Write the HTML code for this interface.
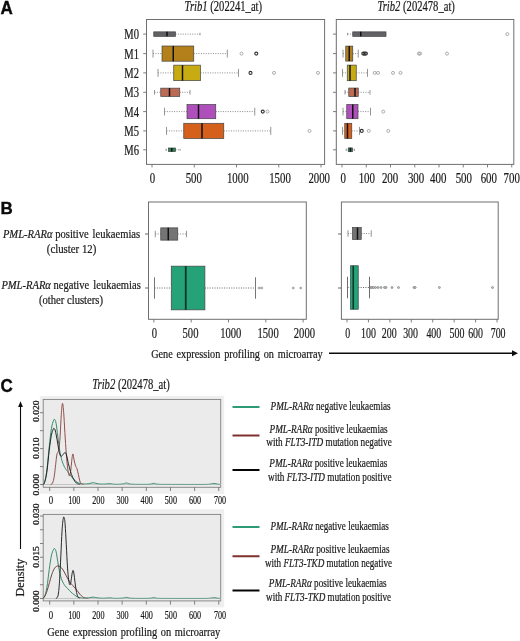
<!DOCTYPE html>
<html lang="en"><head><meta charset="utf-8"><title>Trib1 and Trib2 expression in AML</title>
<style>html,body{margin:0;padding:0;background:#fff}svg{display:block}</style></head>
<body>
<svg width="520" height="641" viewBox="0 0 520 641" font-family="Liberation Serif, serif">
<rect width="520" height="641" fill="#fff"/>
<text transform="translate(0.6 14.0) scale(1 1.09)" font-family="Liberation Sans, sans-serif" font-weight="bold" font-size="17" fill="#0a0a0a" stroke="#0a0a0a" stroke-width="0.35">A</text>
<text transform="translate(0.6 213.8) scale(1 1.01)" font-family="Liberation Sans, sans-serif" font-weight="bold" font-size="17" fill="#0a0a0a" stroke="#0a0a0a" stroke-width="0.35">B</text>
<text transform="translate(0.6 392.2) scale(1 1.09)" font-family="Liberation Sans, sans-serif" font-weight="bold" font-size="17" fill="#0a0a0a" stroke="#0a0a0a" stroke-width="0.35">C</text>
<text x="184.6" y="10.7" font-size="14.6" text-anchor="start" fill="#1a1a1a" stroke="#1a1a1a" stroke-width="0.22" textLength="77.5" lengthAdjust="spacingAndGlyphs" ><tspan font-style="italic">Trib1</tspan> (202241_at)</text>
<text x="377.4" y="10.7" font-size="14.6" text-anchor="start" fill="#1a1a1a" stroke="#1a1a1a" stroke-width="0.22" textLength="77.5" lengthAdjust="spacingAndGlyphs" ><tspan font-style="italic">Trib2</tspan> (202478_at)</text>
<rect x="146.5" y="19.5" width="178.10000000000002" height="144.9" fill="#fff" stroke="#6f6f6f" stroke-width="1"/>
<rect x="336.3" y="19.5" width="177.49999999999994" height="144.9" fill="#fff" stroke="#6f6f6f" stroke-width="1"/>
<text x="124.3" y="39.1" font-size="14.8" text-anchor="start" fill="#1a1a1a" stroke="#1a1a1a" stroke-width="0.22" textLength="14.7" lengthAdjust="spacingAndGlyphs" >M0</text>
<line x1="143.2" y1="34.1" x2="146.5" y2="34.1" stroke="#6f6f6f" stroke-width="0.9"/>
<line x1="333" y1="34.1" x2="336.3" y2="34.1" stroke="#6f6f6f" stroke-width="0.9"/>
<text x="124.3" y="58.6" font-size="14.8" text-anchor="start" fill="#1a1a1a" stroke="#1a1a1a" stroke-width="0.22" textLength="14.7" lengthAdjust="spacingAndGlyphs" >M1</text>
<line x1="143.2" y1="53.6" x2="146.5" y2="53.6" stroke="#6f6f6f" stroke-width="0.9"/>
<line x1="333" y1="53.6" x2="336.3" y2="53.6" stroke="#6f6f6f" stroke-width="0.9"/>
<text x="124.3" y="77.9" font-size="14.8" text-anchor="start" fill="#1a1a1a" stroke="#1a1a1a" stroke-width="0.22" textLength="14.7" lengthAdjust="spacingAndGlyphs" >M2</text>
<line x1="143.2" y1="72.9" x2="146.5" y2="72.9" stroke="#6f6f6f" stroke-width="0.9"/>
<line x1="333" y1="72.9" x2="336.3" y2="72.9" stroke="#6f6f6f" stroke-width="0.9"/>
<text x="124.3" y="97.3" font-size="14.8" text-anchor="start" fill="#1a1a1a" stroke="#1a1a1a" stroke-width="0.22" textLength="14.7" lengthAdjust="spacingAndGlyphs" >M3</text>
<line x1="143.2" y1="92.3" x2="146.5" y2="92.3" stroke="#6f6f6f" stroke-width="0.9"/>
<line x1="333" y1="92.3" x2="336.3" y2="92.3" stroke="#6f6f6f" stroke-width="0.9"/>
<text x="124.3" y="116.6" font-size="14.8" text-anchor="start" fill="#1a1a1a" stroke="#1a1a1a" stroke-width="0.22" textLength="14.7" lengthAdjust="spacingAndGlyphs" >M4</text>
<line x1="143.2" y1="111.6" x2="146.5" y2="111.6" stroke="#6f6f6f" stroke-width="0.9"/>
<line x1="333" y1="111.6" x2="336.3" y2="111.6" stroke="#6f6f6f" stroke-width="0.9"/>
<text x="124.3" y="135.9" font-size="14.8" text-anchor="start" fill="#1a1a1a" stroke="#1a1a1a" stroke-width="0.22" textLength="14.7" lengthAdjust="spacingAndGlyphs" >M5</text>
<line x1="143.2" y1="130.9" x2="146.5" y2="130.9" stroke="#6f6f6f" stroke-width="0.9"/>
<line x1="333" y1="130.9" x2="336.3" y2="130.9" stroke="#6f6f6f" stroke-width="0.9"/>
<text x="124.3" y="154.8" font-size="14.8" text-anchor="start" fill="#1a1a1a" stroke="#1a1a1a" stroke-width="0.22" textLength="14.7" lengthAdjust="spacingAndGlyphs" >M6</text>
<line x1="143.2" y1="149.8" x2="146.5" y2="149.8" stroke="#6f6f6f" stroke-width="0.9"/>
<line x1="333" y1="149.8" x2="336.3" y2="149.8" stroke="#6f6f6f" stroke-width="0.9"/>
<line x1="175.5" y1="34.1" x2="200" y2="34.1" stroke="#8a8a8a" stroke-width="1" stroke-dasharray="1 1.4"/>
<line x1="200" y1="32.862500000000004" x2="200" y2="35.3375" stroke="#8a8a8a" stroke-width="0.9"/>
<rect x="153.75" y="31.85" width="21.75" height="4.5" fill="#626266" stroke="#444" stroke-width="0.7"/>
<line x1="167" y1="31.85" x2="167" y2="36.35" stroke="#111" stroke-width="1.5"/>
<line x1="153" y1="53.6" x2="162" y2="53.6" stroke="#8a8a8a" stroke-width="1" stroke-dasharray="1 1.4"/>
<line x1="153" y1="49.6" x2="153" y2="57.6" stroke="#8a8a8a" stroke-width="0.9"/>
<line x1="193.75" y1="53.6" x2="227.3" y2="53.6" stroke="#8a8a8a" stroke-width="1" stroke-dasharray="1 1.4"/>
<line x1="227.3" y1="49.6" x2="227.3" y2="57.6" stroke="#8a8a8a" stroke-width="0.9"/>
<rect x="162" y="46.0" width="31.75" height="15.2" fill="#b3801b" stroke="#444" stroke-width="0.7"/>
<line x1="173.25" y1="46.0" x2="173.25" y2="61.2" stroke="#111" stroke-width="1.5"/>
<circle cx="241.5" cy="53.6" r="1.5" fill="none" stroke="#8c8c8c" stroke-width="0.7"/>
<circle cx="256.3" cy="53.6" r="1.5" fill="none" stroke="#333" stroke-width="1.1"/>
<line x1="158" y1="72.9" x2="173.75" y2="72.9" stroke="#8a8a8a" stroke-width="1" stroke-dasharray="1 1.4"/>
<line x1="158" y1="68.9" x2="158" y2="76.9" stroke="#8a8a8a" stroke-width="0.9"/>
<line x1="200.5" y1="72.9" x2="238.5" y2="72.9" stroke="#8a8a8a" stroke-width="1" stroke-dasharray="1 1.4"/>
<line x1="238.5" y1="68.9" x2="238.5" y2="76.9" stroke="#8a8a8a" stroke-width="0.9"/>
<rect x="173.75" y="65.15" width="26.75" height="15.5" fill="#c6ab12" stroke="#444" stroke-width="0.7"/>
<line x1="182.5" y1="65.15" x2="182.5" y2="80.65" stroke="#111" stroke-width="1.5"/>
<circle cx="274" cy="72.9" r="1.5" fill="none" stroke="#8c8c8c" stroke-width="0.7"/>
<circle cx="318" cy="72.9" r="1.5" fill="none" stroke="#8c8c8c" stroke-width="0.7"/>
<circle cx="250.5" cy="72.9" r="1.5" fill="none" stroke="#333" stroke-width="1.1"/>
<line x1="154.5" y1="92.3" x2="160.75" y2="92.3" stroke="#8a8a8a" stroke-width="1" stroke-dasharray="1 1.4"/>
<line x1="154.5" y1="90.0175" x2="154.5" y2="94.5825" stroke="#8a8a8a" stroke-width="0.9"/>
<line x1="179.75" y1="92.3" x2="190" y2="92.3" stroke="#8a8a8a" stroke-width="1" stroke-dasharray="1 1.4"/>
<line x1="190" y1="90.0175" x2="190" y2="94.5825" stroke="#8a8a8a" stroke-width="0.9"/>
<rect x="160.75" y="88.14999999999999" width="19.0" height="8.3" fill="#bc6a54" stroke="#444" stroke-width="0.7"/>
<line x1="169.5" y1="88.14999999999999" x2="169.5" y2="96.45" stroke="#111" stroke-width="1.5"/>
<line x1="164.5" y1="111.6" x2="187" y2="111.6" stroke="#8a8a8a" stroke-width="1" stroke-dasharray="1 1.4"/>
<line x1="164.5" y1="107.695" x2="164.5" y2="115.505" stroke="#8a8a8a" stroke-width="0.9"/>
<line x1="215.75" y1="111.6" x2="254.75" y2="111.6" stroke="#8a8a8a" stroke-width="1" stroke-dasharray="1 1.4"/>
<line x1="254.75" y1="107.695" x2="254.75" y2="115.505" stroke="#8a8a8a" stroke-width="0.9"/>
<rect x="187" y="104.5" width="28.75" height="14.2" fill="#ae4fbb" stroke="#444" stroke-width="0.7"/>
<line x1="198.5" y1="104.5" x2="198.5" y2="118.69999999999999" stroke="#111" stroke-width="1.5"/>
<circle cx="267.5" cy="111.6" r="1.5" fill="none" stroke="#8c8c8c" stroke-width="0.7"/>
<circle cx="262.75" cy="111.6" r="1.5" fill="none" stroke="#333" stroke-width="1.1"/>
<line x1="166.5" y1="130.9" x2="183.75" y2="130.9" stroke="#8a8a8a" stroke-width="1" stroke-dasharray="1 1.4"/>
<line x1="166.5" y1="126.9" x2="166.5" y2="134.9" stroke="#8a8a8a" stroke-width="0.9"/>
<line x1="223.75" y1="130.9" x2="270.75" y2="130.9" stroke="#8a8a8a" stroke-width="1" stroke-dasharray="1 1.4"/>
<line x1="270.75" y1="126.9" x2="270.75" y2="134.9" stroke="#8a8a8a" stroke-width="0.9"/>
<rect x="183.75" y="123.30000000000001" width="40.0" height="15.2" fill="#d4601c" stroke="#444" stroke-width="0.7"/>
<line x1="202" y1="123.30000000000001" x2="202" y2="138.5" stroke="#111" stroke-width="1.5"/>
<circle cx="309.5" cy="130.9" r="1.5" fill="none" stroke="#8c8c8c" stroke-width="0.7"/>
<line x1="166" y1="149.8" x2="168.5" y2="149.8" stroke="#8a8a8a" stroke-width="1" stroke-dasharray="1 1.4"/>
<line x1="166" y1="148.81" x2="166" y2="150.79000000000002" stroke="#8a8a8a" stroke-width="0.9"/>
<line x1="175.5" y1="149.8" x2="180" y2="149.8" stroke="#8a8a8a" stroke-width="1" stroke-dasharray="1 1.4"/>
<line x1="180" y1="148.81" x2="180" y2="150.79000000000002" stroke="#8a8a8a" stroke-width="0.9"/>
<rect x="168.5" y="148.0" width="7.0" height="3.6" fill="#2a8258" stroke="#444" stroke-width="0.7"/>
<line x1="171.75" y1="148.0" x2="171.75" y2="151.60000000000002" stroke="#111" stroke-width="1.5"/>
<line x1="347.5" y1="34.1" x2="352.75" y2="34.1" stroke="#8a8a8a" stroke-width="1" stroke-dasharray="1 1.4"/>
<line x1="347.5" y1="32.862500000000004" x2="347.5" y2="35.3375" stroke="#8a8a8a" stroke-width="0.9"/>
<rect x="352.75" y="31.85" width="33.25" height="4.5" fill="#626266" stroke="#444" stroke-width="0.7"/>
<line x1="360.75" y1="31.85" x2="360.75" y2="36.35" stroke="#111" stroke-width="1.5"/>
<circle cx="507.3" cy="34.1" r="1.5" fill="none" stroke="#8c8c8c" stroke-width="0.7"/>
<line x1="343" y1="53.6" x2="345.75" y2="53.6" stroke="#8a8a8a" stroke-width="1" stroke-dasharray="1 1.4"/>
<line x1="343" y1="49.6" x2="343" y2="57.6" stroke="#8a8a8a" stroke-width="0.9"/>
<line x1="352.75" y1="53.6" x2="358.25" y2="53.6" stroke="#8a8a8a" stroke-width="1" stroke-dasharray="1 1.4"/>
<line x1="358.25" y1="49.6" x2="358.25" y2="57.6" stroke="#8a8a8a" stroke-width="0.9"/>
<rect x="345.75" y="46.1" width="7.0" height="15" fill="#b3801b" stroke="#444" stroke-width="0.7"/>
<line x1="349.25" y1="46.1" x2="349.25" y2="61.1" stroke="#111" stroke-width="1.5"/>
<circle cx="418.9" cy="53.6" r="1.5" fill="none" stroke="#8c8c8c" stroke-width="0.7"/>
<circle cx="420.1" cy="53.6" r="1.5" fill="none" stroke="#8c8c8c" stroke-width="0.7"/>
<circle cx="447" cy="53.6" r="1.5" fill="none" stroke="#8c8c8c" stroke-width="0.7"/>
<circle cx="363.3" cy="53.6" r="1.5" fill="none" stroke="#333" stroke-width="1.1"/>
<circle cx="364.6" cy="53.6" r="1.5" fill="none" stroke="#333" stroke-width="1.1"/>
<circle cx="365.9" cy="53.6" r="1.5" fill="none" stroke="#333" stroke-width="1.1"/>
<line x1="342.5" y1="72.9" x2="347.25" y2="72.9" stroke="#8a8a8a" stroke-width="1" stroke-dasharray="1 1.4"/>
<line x1="342.5" y1="68.9" x2="342.5" y2="76.9" stroke="#8a8a8a" stroke-width="0.9"/>
<line x1="356.25" y1="72.9" x2="367.5" y2="72.9" stroke="#8a8a8a" stroke-width="1" stroke-dasharray="1 1.4"/>
<line x1="367.5" y1="68.9" x2="367.5" y2="76.9" stroke="#8a8a8a" stroke-width="0.9"/>
<rect x="347.25" y="65.10000000000001" width="9.0" height="15.6" fill="#c6ab12" stroke="#444" stroke-width="0.7"/>
<line x1="350" y1="65.10000000000001" x2="350" y2="80.7" stroke="#111" stroke-width="1.5"/>
<circle cx="374.75" cy="72.9" r="1.5" fill="none" stroke="#8c8c8c" stroke-width="0.7"/>
<circle cx="378" cy="72.9" r="1.5" fill="none" stroke="#8c8c8c" stroke-width="0.7"/>
<circle cx="393" cy="72.9" r="1.5" fill="none" stroke="#8c8c8c" stroke-width="0.7"/>
<circle cx="400.5" cy="72.9" r="1.5" fill="none" stroke="#8c8c8c" stroke-width="0.7"/>
<line x1="345" y1="92.3" x2="348.75" y2="92.3" stroke="#8a8a8a" stroke-width="1" stroke-dasharray="1 1.4"/>
<line x1="345" y1="89.96249999999999" x2="345" y2="94.6375" stroke="#8a8a8a" stroke-width="0.9"/>
<line x1="358.25" y1="92.3" x2="370" y2="92.3" stroke="#8a8a8a" stroke-width="1" stroke-dasharray="1 1.4"/>
<line x1="370" y1="89.96249999999999" x2="370" y2="94.6375" stroke="#8a8a8a" stroke-width="0.9"/>
<rect x="348.75" y="88.05" width="9.5" height="8.5" fill="#bc6a54" stroke="#444" stroke-width="0.7"/>
<line x1="355" y1="88.05" x2="355" y2="96.55" stroke="#111" stroke-width="1.5"/>
<line x1="343" y1="111.6" x2="346.75" y2="111.6" stroke="#8a8a8a" stroke-width="1" stroke-dasharray="1 1.4"/>
<line x1="343" y1="107.695" x2="343" y2="115.505" stroke="#8a8a8a" stroke-width="0.9"/>
<line x1="358" y1="111.6" x2="370.5" y2="111.6" stroke="#8a8a8a" stroke-width="1" stroke-dasharray="1 1.4"/>
<line x1="370.5" y1="107.695" x2="370.5" y2="115.505" stroke="#8a8a8a" stroke-width="0.9"/>
<rect x="346.75" y="104.5" width="11.25" height="14.2" fill="#ae4fbb" stroke="#444" stroke-width="0.7"/>
<line x1="352.75" y1="104.5" x2="352.75" y2="118.69999999999999" stroke="#111" stroke-width="1.5"/>
<circle cx="383.25" cy="111.6" r="1.5" fill="none" stroke="#8c8c8c" stroke-width="0.7"/>
<line x1="342.5" y1="130.9" x2="344.75" y2="130.9" stroke="#8a8a8a" stroke-width="1" stroke-dasharray="1 1.4"/>
<line x1="342.5" y1="126.9" x2="342.5" y2="134.9" stroke="#8a8a8a" stroke-width="0.9"/>
<line x1="351.75" y1="130.9" x2="359.5" y2="130.9" stroke="#8a8a8a" stroke-width="1" stroke-dasharray="1 1.4"/>
<line x1="359.5" y1="126.9" x2="359.5" y2="134.9" stroke="#8a8a8a" stroke-width="0.9"/>
<rect x="344.75" y="123.30000000000001" width="7.0" height="15.2" fill="#d4601c" stroke="#444" stroke-width="0.7"/>
<line x1="347.5" y1="123.30000000000001" x2="347.5" y2="138.5" stroke="#111" stroke-width="1.5"/>
<circle cx="368.75" cy="130.9" r="1.5" fill="none" stroke="#8c8c8c" stroke-width="0.7"/>
<circle cx="388.25" cy="130.9" r="1.5" fill="none" stroke="#8c8c8c" stroke-width="0.7"/>
<circle cx="361.75" cy="130.9" r="1.5" fill="none" stroke="#333" stroke-width="1.1"/>
<line x1="346.25" y1="149.8" x2="348.25" y2="149.8" stroke="#8a8a8a" stroke-width="1" stroke-dasharray="1 1.4"/>
<line x1="346.25" y1="148.75500000000002" x2="346.25" y2="150.845" stroke="#8a8a8a" stroke-width="0.9"/>
<line x1="352.5" y1="149.8" x2="354.5" y2="149.8" stroke="#8a8a8a" stroke-width="1" stroke-dasharray="1 1.4"/>
<line x1="354.5" y1="148.75500000000002" x2="354.5" y2="150.845" stroke="#8a8a8a" stroke-width="0.9"/>
<rect x="348.25" y="147.9" width="4.25" height="3.8" fill="#2a8258" stroke="#444" stroke-width="0.7"/>
<line x1="350.4" y1="147.9" x2="350.4" y2="151.70000000000002" stroke="#111" stroke-width="1.5"/>
<line x1="152" y1="164.4" x2="152" y2="167.4" stroke="#6f6f6f" stroke-width="0.9"/>
<text x="152.5" y="182.9" font-size="14.4" text-anchor="middle" fill="#1a1a1a" stroke="#1a1a1a" stroke-width="0.22" textLength="5.4" lengthAdjust="spacingAndGlyphs" >0</text>
<line x1="194.25" y1="164.4" x2="194.25" y2="167.4" stroke="#6f6f6f" stroke-width="0.9"/>
<text x="193.75" y="182.9" font-size="14.4" text-anchor="middle" fill="#1a1a1a" stroke="#1a1a1a" stroke-width="0.22" textLength="16.200000000000003" lengthAdjust="spacingAndGlyphs" >500</text>
<line x1="236.5" y1="164.4" x2="236.5" y2="167.4" stroke="#6f6f6f" stroke-width="0.9"/>
<text x="237.75" y="182.9" font-size="14.4" text-anchor="middle" fill="#1a1a1a" stroke="#1a1a1a" stroke-width="0.22" textLength="21.6" lengthAdjust="spacingAndGlyphs" >1000</text>
<line x1="278.75" y1="164.4" x2="278.75" y2="167.4" stroke="#6f6f6f" stroke-width="0.9"/>
<text x="280.0" y="182.9" font-size="14.4" text-anchor="middle" fill="#1a1a1a" stroke="#1a1a1a" stroke-width="0.22" textLength="21.6" lengthAdjust="spacingAndGlyphs" >1500</text>
<line x1="321" y1="164.4" x2="321" y2="167.4" stroke="#6f6f6f" stroke-width="0.9"/>
<text x="319.2" y="182.9" font-size="14.4" text-anchor="middle" fill="#1a1a1a" stroke="#1a1a1a" stroke-width="0.22" textLength="21.6" lengthAdjust="spacingAndGlyphs" >2000</text>
<line x1="342.0" y1="164.4" x2="342.0" y2="167.4" stroke="#6f6f6f" stroke-width="0.9"/>
<text x="343.20000000000005" y="182.9" font-size="14.4" text-anchor="middle" fill="#1a1a1a" stroke="#1a1a1a" stroke-width="0.22" textLength="5.45" lengthAdjust="spacingAndGlyphs" >0</text>
<line x1="366.25" y1="164.4" x2="366.25" y2="167.4" stroke="#6f6f6f" stroke-width="0.9"/>
<text x="366.85" y="182.9" font-size="14.4" text-anchor="middle" fill="#1a1a1a" stroke="#1a1a1a" stroke-width="0.22" textLength="16.35" lengthAdjust="spacingAndGlyphs" >100</text>
<line x1="390.5" y1="164.4" x2="390.5" y2="167.4" stroke="#6f6f6f" stroke-width="0.9"/>
<text x="390.1" y="182.9" font-size="14.4" text-anchor="middle" fill="#1a1a1a" stroke="#1a1a1a" stroke-width="0.22" textLength="16.35" lengthAdjust="spacingAndGlyphs" >200</text>
<line x1="414.75" y1="164.4" x2="414.75" y2="167.4" stroke="#6f6f6f" stroke-width="0.9"/>
<text x="416.05" y="182.9" font-size="14.4" text-anchor="middle" fill="#1a1a1a" stroke="#1a1a1a" stroke-width="0.22" textLength="16.35" lengthAdjust="spacingAndGlyphs" >300</text>
<line x1="439.0" y1="164.4" x2="439.0" y2="167.4" stroke="#6f6f6f" stroke-width="0.9"/>
<text x="438.20000000000005" y="182.9" font-size="14.4" text-anchor="middle" fill="#1a1a1a" stroke="#1a1a1a" stroke-width="0.22" textLength="16.35" lengthAdjust="spacingAndGlyphs" >400</text>
<line x1="463.25" y1="164.4" x2="463.25" y2="167.4" stroke="#6f6f6f" stroke-width="0.9"/>
<text x="463.85" y="182.9" font-size="14.4" text-anchor="middle" fill="#1a1a1a" stroke="#1a1a1a" stroke-width="0.22" textLength="16.35" lengthAdjust="spacingAndGlyphs" >500</text>
<line x1="487.5" y1="164.4" x2="487.5" y2="167.4" stroke="#6f6f6f" stroke-width="0.9"/>
<text x="488.8" y="182.9" font-size="14.4" text-anchor="middle" fill="#1a1a1a" stroke="#1a1a1a" stroke-width="0.22" textLength="16.35" lengthAdjust="spacingAndGlyphs" >600</text>
<line x1="511.75" y1="164.4" x2="511.75" y2="167.4" stroke="#6f6f6f" stroke-width="0.9"/>
<text x="511.75" y="182.9" font-size="14.4" text-anchor="middle" fill="#1a1a1a" stroke="#1a1a1a" stroke-width="0.22" textLength="16.35" lengthAdjust="spacingAndGlyphs" >700</text>
<rect x="148.5" y="202" width="157.8" height="117.30000000000001" fill="#fff" stroke="#6f6f6f" stroke-width="1"/>
<rect x="341.4" y="202" width="156.8" height="117.30000000000001" fill="#fff" stroke="#6f6f6f" stroke-width="1"/>
<text x="2.9" y="238.2" font-size="13.1" text-anchor="start" fill="#1a1a1a" stroke="#1a1a1a" stroke-width="0.22" textLength="137.3" lengthAdjust="spacingAndGlyphs" ><tspan font-style="italic">PML-RARα</tspan> positive <tspan dx="1.5">leukaemias</tspan></text>
<text x="46.8" y="253.3" font-size="13.1" text-anchor="start" fill="#1a1a1a" stroke="#1a1a1a" stroke-width="0.22" textLength="49.5" lengthAdjust="spacingAndGlyphs" >(cluster 12)</text>
<text x="1.4" y="289" font-size="13.1" text-anchor="start" fill="#1a1a1a" stroke="#1a1a1a" stroke-width="0.22" textLength="139.4" lengthAdjust="spacingAndGlyphs" ><tspan font-style="italic">PML-RARα</tspan> negative <tspan dx="1.8">leukaemias</tspan></text>
<text x="39" y="303.7" font-size="13.1" text-anchor="start" fill="#1a1a1a" stroke="#1a1a1a" stroke-width="0.22" textLength="64" lengthAdjust="spacingAndGlyphs" >(other clusters)</text>
<line x1="145" y1="234" x2="148.2" y2="234" stroke="#555" stroke-width="0.9"/>
<line x1="338" y1="234" x2="341.2" y2="234" stroke="#555" stroke-width="0.9"/>
<line x1="145" y1="288" x2="148.2" y2="288" stroke="#555" stroke-width="0.9"/>
<line x1="338" y1="288" x2="341.2" y2="288" stroke="#555" stroke-width="0.9"/>
<line x1="155.25" y1="234" x2="160.75" y2="234" stroke="#8a8a8a" stroke-width="1" stroke-dasharray="1 1.4"/>
<line x1="155.25" y1="230.75" x2="155.25" y2="237.25" stroke="#8a8a8a" stroke-width="0.9"/>
<line x1="177.75" y1="234" x2="186.5" y2="234" stroke="#8a8a8a" stroke-width="1" stroke-dasharray="1 1.4"/>
<line x1="186.5" y1="230.75" x2="186.5" y2="237.25" stroke="#8a8a8a" stroke-width="0.9"/>
<rect x="160.75" y="227.85" width="17.0" height="12.3" fill="#747474" stroke="#444" stroke-width="0.7"/>
<line x1="168.25" y1="227.85" x2="168.25" y2="240.15" stroke="#111" stroke-width="1.5"/>
<line x1="154.5" y1="288" x2="171.25" y2="288" stroke="#666" stroke-width="1" stroke-dasharray="1 1.4"/>
<line x1="154.5" y1="277.25" x2="154.5" y2="298.75" stroke="#666" stroke-width="0.9"/>
<line x1="204.9" y1="288" x2="255.5" y2="288" stroke="#666" stroke-width="1" stroke-dasharray="1 1.4"/>
<line x1="255.5" y1="277.25" x2="255.5" y2="298.75" stroke="#666" stroke-width="0.9"/>
<rect x="171.25" y="266.15" width="33.650000000000006" height="43.7" fill="#25a278" stroke="#444" stroke-width="0.7"/>
<line x1="185.75" y1="266.15" x2="185.75" y2="309.85" stroke="#08382a" stroke-width="1.8"/>
<circle cx="259.25" cy="288" r="1.1" fill="#aaa" stroke="#999" stroke-width="0.5"/>
<circle cx="261.75" cy="288" r="1.1" fill="#aaa" stroke="#999" stroke-width="0.5"/>
<circle cx="293.25" cy="288" r="1.1" fill="#aaa" stroke="#999" stroke-width="0.5"/>
<circle cx="300.75" cy="288" r="1.1" fill="#aaa" stroke="#999" stroke-width="0.5"/>
<line x1="348" y1="233.5" x2="352.5" y2="233.5" stroke="#8a8a8a" stroke-width="1" stroke-dasharray="1 1.4"/>
<line x1="348" y1="230.25" x2="348" y2="236.75" stroke="#8a8a8a" stroke-width="0.9"/>
<line x1="361.25" y1="233.5" x2="371.25" y2="233.5" stroke="#8a8a8a" stroke-width="1" stroke-dasharray="1 1.4"/>
<line x1="371.25" y1="230.25" x2="371.25" y2="236.75" stroke="#8a8a8a" stroke-width="0.9"/>
<rect x="352.5" y="227.5" width="8.75" height="12" fill="#747474" stroke="#444" stroke-width="0.7"/>
<line x1="357.5" y1="227.5" x2="357.5" y2="239.5" stroke="#111" stroke-width="1.5"/>
<line x1="347.5" y1="287.5" x2="350.5" y2="287.5" stroke="#62585a" stroke-width="1" stroke-dasharray="1 1.4"/>
<line x1="347.5" y1="276.75" x2="347.5" y2="298.25" stroke="#62585a" stroke-width="0.9"/>
<line x1="358.25" y1="287.5" x2="369.5" y2="287.5" stroke="#62585a" stroke-width="1" stroke-dasharray="1 1.4"/>
<line x1="369.5" y1="276.75" x2="369.5" y2="298.25" stroke="#62585a" stroke-width="0.9"/>
<rect x="350.5" y="265.75" width="7.75" height="43.5" fill="#25a278" stroke="#444" stroke-width="0.7"/>
<line x1="353.25" y1="265.75" x2="353.25" y2="309.25" stroke="#08382a" stroke-width="1.6"/>
<circle cx="370.8" cy="287.5" r="1.0" fill="#c4c4c4" stroke="#707070" stroke-width="0.6"/>
<circle cx="372" cy="287.5" r="1.0" fill="#c4c4c4" stroke="#707070" stroke-width="0.6"/>
<circle cx="373.5" cy="287.5" r="1.0" fill="#c4c4c4" stroke="#707070" stroke-width="0.6"/>
<circle cx="375.5" cy="287.5" r="1.0" fill="#c4c4c4" stroke="#707070" stroke-width="0.6"/>
<circle cx="378" cy="287.5" r="1.0" fill="#c4c4c4" stroke="#707070" stroke-width="0.6"/>
<circle cx="381" cy="287.5" r="1.0" fill="#c4c4c4" stroke="#707070" stroke-width="0.6"/>
<circle cx="384.5" cy="287.5" r="1.0" fill="#c4c4c4" stroke="#707070" stroke-width="0.6"/>
<circle cx="386" cy="287.5" r="1.0" fill="#c4c4c4" stroke="#707070" stroke-width="0.6"/>
<circle cx="392" cy="287.5" r="1.0" fill="#c4c4c4" stroke="#707070" stroke-width="0.6"/>
<circle cx="398.5" cy="287.5" r="1.0" fill="#c4c4c4" stroke="#707070" stroke-width="0.6"/>
<circle cx="414" cy="287.5" r="1.0" fill="#c4c4c4" stroke="#707070" stroke-width="0.6"/>
<circle cx="415.2" cy="287.5" r="1.0" fill="#c4c4c4" stroke="#707070" stroke-width="0.6"/>
<circle cx="439.4" cy="287.5" r="1.0" fill="#c4c4c4" stroke="#707070" stroke-width="0.6"/>
<circle cx="492.5" cy="287.5" r="1.0" fill="#c4c4c4" stroke="#707070" stroke-width="0.6"/>
<line x1="153.9" y1="319.3" x2="153.9" y2="322.4" stroke="#6f6f6f" stroke-width="0.9"/>
<text x="154.5" y="337.7" font-size="14.6" text-anchor="middle" fill="#1a1a1a" stroke="#1a1a1a" stroke-width="0.22" textLength="5.3" lengthAdjust="spacingAndGlyphs" >0</text>
<line x1="191.2" y1="319.3" x2="191.2" y2="322.4" stroke="#6f6f6f" stroke-width="0.9"/>
<text x="190.49999999999997" y="337.7" font-size="14.6" text-anchor="middle" fill="#1a1a1a" stroke="#1a1a1a" stroke-width="0.22" textLength="15.899999999999999" lengthAdjust="spacingAndGlyphs" >500</text>
<line x1="228.5" y1="319.3" x2="228.5" y2="322.4" stroke="#6f6f6f" stroke-width="0.9"/>
<text x="230.79999999999998" y="337.7" font-size="14.6" text-anchor="middle" fill="#1a1a1a" stroke="#1a1a1a" stroke-width="0.22" textLength="21.2" lengthAdjust="spacingAndGlyphs" >1000</text>
<line x1="265.8" y1="319.3" x2="265.8" y2="322.4" stroke="#6f6f6f" stroke-width="0.9"/>
<text x="268.1" y="337.7" font-size="14.6" text-anchor="middle" fill="#1a1a1a" stroke="#1a1a1a" stroke-width="0.22" textLength="21.2" lengthAdjust="spacingAndGlyphs" >1500</text>
<line x1="303.1" y1="319.3" x2="303.1" y2="322.4" stroke="#6f6f6f" stroke-width="0.9"/>
<text x="304.40000000000003" y="337.7" font-size="14.6" text-anchor="middle" fill="#1a1a1a" stroke="#1a1a1a" stroke-width="0.22" textLength="21.2" lengthAdjust="spacingAndGlyphs" >2000</text>
<line x1="347.0" y1="319.3" x2="347.0" y2="322.4" stroke="#6f6f6f" stroke-width="0.9"/>
<text x="347.7" y="337.7" font-size="14.6" text-anchor="middle" fill="#1a1a1a" stroke="#1a1a1a" stroke-width="0.22" textLength="4.95" lengthAdjust="spacingAndGlyphs" >0</text>
<line x1="368.43" y1="319.3" x2="368.43" y2="322.4" stroke="#6f6f6f" stroke-width="0.9"/>
<text x="368.43" y="337.7" font-size="14.6" text-anchor="middle" fill="#1a1a1a" stroke="#1a1a1a" stroke-width="0.22" textLength="14.850000000000001" lengthAdjust="spacingAndGlyphs" >100</text>
<line x1="389.86" y1="319.3" x2="389.86" y2="322.4" stroke="#6f6f6f" stroke-width="0.9"/>
<text x="389.16" y="337.7" font-size="14.6" text-anchor="middle" fill="#1a1a1a" stroke="#1a1a1a" stroke-width="0.22" textLength="14.850000000000001" lengthAdjust="spacingAndGlyphs" >200</text>
<line x1="411.28999999999996" y1="319.3" x2="411.28999999999996" y2="322.4" stroke="#6f6f6f" stroke-width="0.9"/>
<text x="410.59" y="337.7" font-size="14.6" text-anchor="middle" fill="#1a1a1a" stroke="#1a1a1a" stroke-width="0.22" textLength="14.850000000000001" lengthAdjust="spacingAndGlyphs" >300</text>
<line x1="432.72" y1="319.3" x2="432.72" y2="322.4" stroke="#6f6f6f" stroke-width="0.9"/>
<text x="433.82" y="337.7" font-size="14.6" text-anchor="middle" fill="#1a1a1a" stroke="#1a1a1a" stroke-width="0.22" textLength="14.850000000000001" lengthAdjust="spacingAndGlyphs" >400</text>
<line x1="454.15" y1="319.3" x2="454.15" y2="322.4" stroke="#6f6f6f" stroke-width="0.9"/>
<text x="456.95" y="337.7" font-size="14.6" text-anchor="middle" fill="#1a1a1a" stroke="#1a1a1a" stroke-width="0.22" textLength="14.850000000000001" lengthAdjust="spacingAndGlyphs" >500</text>
<line x1="475.58" y1="319.3" x2="475.58" y2="322.4" stroke="#6f6f6f" stroke-width="0.9"/>
<text x="475.58" y="337.7" font-size="14.6" text-anchor="middle" fill="#1a1a1a" stroke="#1a1a1a" stroke-width="0.22" textLength="14.850000000000001" lengthAdjust="spacingAndGlyphs" >600</text>
<line x1="497.01" y1="319.3" x2="497.01" y2="322.4" stroke="#6f6f6f" stroke-width="0.9"/>
<text x="498.10999999999996" y="337.7" font-size="14.6" text-anchor="middle" fill="#1a1a1a" stroke="#1a1a1a" stroke-width="0.22" textLength="14.850000000000001" lengthAdjust="spacingAndGlyphs" >700</text>
<text x="151.2" y="358.1" font-size="12.4" text-anchor="start" fill="#1a1a1a" stroke="#1a1a1a" stroke-width="0.22" textLength="171.5" lengthAdjust="spacingAndGlyphs" word-spacing="1.5">Gene expression profiling on microarray</text>
<line x1="329" y1="353.2" x2="514" y2="353.2" stroke="#0c0c0c" stroke-width="1.5"/>
<path d="M518 353.2 L512 350.2 L512 356.2 Z" fill="#0c0c0c"/>
<text x="92.2" y="388.8" font-size="14.6" text-anchor="start" fill="#1a1a1a" stroke="#1a1a1a" stroke-width="0.22" textLength="77.6" lengthAdjust="spacingAndGlyphs" ><tspan font-style="italic">Trib2</tspan> (202478_at)</text>
<rect x="39.8" y="395.9" width="184.4" height="97.90000000000003" fill="#efefef"/>
<rect x="43.2" y="399.4" width="177.5" height="87.90000000000003" fill="#ebebeb" stroke="#808080" stroke-width="0.9"/>
<line x1="43.2" y1="484.5" x2="220.7" y2="484.5" stroke="#b5b5b5" stroke-width="0.7"/>
<clipPath id="c399"><rect x="43.2" y="399.4" width="177.5" height="87.90000000000003"/></clipPath>
<g clip-path="url(#c399)">
<path d="M42.59 484.50 C42.93 484.11 43.72 484.93 44.49 482.35 C45.26 479.76 46.00 476.54 46.86 470.14 C47.71 463.74 48.42 454.24 49.23 446.81 C50.04 439.37 50.59 433.57 51.36 428.86 C52.13 424.14 52.90 422.28 53.49 420.60 C54.09 418.92 54.21 419.00 54.68 419.52 C55.15 420.04 55.55 420.50 56.10 423.47 C56.66 426.44 57.12 431.19 57.76 436.04 C58.40 440.88 58.89 445.94 59.66 450.39 C60.42 454.85 61.09 457.70 62.03 460.81 C62.96 463.91 63.85 465.69 64.87 467.63 C65.89 469.57 66.65 470.09 67.71 471.58 C68.78 473.06 69.60 474.40 70.80 475.88 C71.99 477.37 73.07 478.61 74.35 479.83 C75.63 481.06 76.41 481.96 77.91 482.70 C79.40 483.45 80.77 483.77 82.64 483.96 C84.52 484.16 86.45 484.01 88.34 483.78 C90.23 483.56 91.43 482.69 93.17 482.70 C94.91 482.72 96.04 483.60 98.00 483.85 C99.96 484.11 101.86 484.17 104.04 484.14 C106.21 484.12 108.12 483.68 110.08 483.71 C112.03 483.74 112.73 484.26 114.91 484.32 C117.08 484.39 120.06 484.30 122.15 484.07 C124.24 483.84 124.98 483.05 126.50 483.06 C128.02 483.08 127.91 483.90 130.60 484.14 C133.30 484.38 137.99 484.38 141.47 484.39 C144.95 484.41 147.66 484.39 149.92 484.21 C152.18 484.04 152.51 483.41 154.03 483.42 C155.55 483.44 154.55 484.10 158.38 484.28 C162.20 484.47 167.02 484.40 175.28 484.43 C183.54 484.45 197.96 484.49 204.26 484.43 C210.56 484.36 208.56 484.24 210.30 484.07 C212.04 483.90 212.62 483.48 213.92 483.49 C215.22 483.51 216.46 483.98 217.54 484.14 C218.63 484.30 219.52 484.35 219.96 484.39" fill="none" stroke="#2c8566" stroke-width="0.95" stroke-linejoin="round"/>
<path d="M50.65 484.50 C50.99 484.24 51.91 484.49 52.55 483.06 C53.19 481.64 53.65 479.90 54.20 476.60 C54.76 473.31 55.16 468.63 55.63 464.75 C56.10 460.88 56.39 457.39 56.81 455.06 C57.24 452.74 57.61 452.86 58.00 451.83 C58.38 450.80 58.56 452.16 58.95 449.32 C59.33 446.47 59.70 442.30 60.13 436.04 C60.56 429.77 60.89 420.38 61.31 414.50 C61.74 408.61 62.07 403.69 62.50 403.37 C62.93 403.04 63.26 407.47 63.69 412.70 C64.11 417.93 64.40 425.01 64.87 432.44 C65.34 439.88 65.74 447.20 66.29 453.99 C66.85 460.77 67.40 466.20 67.95 470.14 C68.51 474.08 68.90 475.56 69.37 475.88 C69.84 476.21 70.09 475.04 70.56 471.94 C71.03 468.83 71.55 461.88 71.98 458.65 C72.41 455.42 72.54 453.73 72.93 453.99 C73.31 454.24 73.64 457.96 74.11 460.09 C74.58 462.22 75.02 464.28 75.53 465.83 C76.05 467.38 76.45 467.15 76.96 468.70 C77.47 470.25 77.87 472.25 78.38 474.45 C78.89 476.65 79.25 479.23 79.80 480.91 C80.36 482.59 80.73 483.14 81.46 483.78 C82.19 484.43 83.40 484.37 83.83 484.50" fill="none" stroke="#8c4842" stroke-width="0.95" stroke-linejoin="round"/>
<path d="M42.59 484.50 C42.93 484.18 43.72 484.97 44.49 482.70 C45.26 480.44 46.00 477.75 46.86 471.94 C47.71 466.12 48.42 456.99 49.23 450.39 C50.04 443.80 50.64 439.13 51.36 435.32 C52.09 431.50 52.75 430.44 53.26 429.21 C53.77 427.99 53.82 428.17 54.20 428.50 C54.59 428.82 54.88 429.01 55.39 431.01 C55.90 433.01 56.45 436.33 57.05 439.62 C57.65 442.92 58.15 446.54 58.71 449.32 C59.26 452.10 59.62 453.83 60.13 455.06 C60.64 456.29 61.00 456.27 61.55 456.14 C62.11 456.01 62.57 454.99 63.21 454.34 C63.85 453.70 64.51 452.42 65.11 452.55 C65.70 452.68 65.93 453.06 66.53 455.06 C67.13 457.07 67.70 460.71 68.42 463.68 C69.15 466.65 69.79 469.12 70.56 471.58 C71.33 474.03 71.88 475.51 72.69 477.32 C73.50 479.13 74.21 480.46 75.06 481.63 C75.91 482.79 76.49 483.27 77.43 483.78 C78.37 484.30 79.76 484.37 80.28 484.50" fill="none" stroke="#1e1e1e" stroke-width="0.95" stroke-linejoin="round"/>
</g>
<line x1="57.2" y1="484.5" x2="220.7" y2="484.5" stroke="#c4c4c4" stroke-width="0.7" opacity="0.55"/>
<line x1="40" y1="484.5" x2="43.2" y2="484.5" stroke="#666" stroke-width="0.8"/>
<line x1="40" y1="466.55" x2="43.2" y2="466.55" stroke="#666" stroke-width="0.8"/>
<line x1="40" y1="448.6" x2="43.2" y2="448.6" stroke="#666" stroke-width="0.8"/>
<line x1="40" y1="430.65" x2="43.2" y2="430.65" stroke="#666" stroke-width="0.8"/>
<line x1="40" y1="412.7" x2="43.2" y2="412.7" stroke="#666" stroke-width="0.8"/>
<text transform="translate(38.8 411.2) rotate(-90)" font-size="8.5" text-anchor="middle" fill="#222" stroke="#222" stroke-width="0.3" textLength="21.6" lengthAdjust="spacingAndGlyphs">0.020</text>
<text transform="translate(38.8 448.2) rotate(-90)" font-size="8.5" text-anchor="middle" fill="#222" stroke="#222" stroke-width="0.3" textLength="21.6" lengthAdjust="spacingAndGlyphs">0.010</text>
<text transform="translate(38.8 484.8) rotate(-90)" font-size="8.5" text-anchor="middle" fill="#222" stroke="#222" stroke-width="0.3" textLength="21.6" lengthAdjust="spacingAndGlyphs">0.000</text>
<line x1="49.7" y1="487.3" x2="49.7" y2="491.0" stroke="#666" stroke-width="0.8"/>
<text x="51.0" y="503.6" font-size="12.5" text-anchor="middle" fill="#1a1a1a" stroke="#1a1a1a" stroke-width="0.22" textLength="4.4" lengthAdjust="spacingAndGlyphs" >0</text>
<line x1="73.85" y1="487.3" x2="73.85" y2="491.0" stroke="#666" stroke-width="0.8"/>
<text x="74.25" y="503.6" font-size="12.5" text-anchor="middle" fill="#1a1a1a" stroke="#1a1a1a" stroke-width="0.22" textLength="12.2" lengthAdjust="spacingAndGlyphs" >100</text>
<line x1="98.0" y1="487.3" x2="98.0" y2="491.0" stroke="#666" stroke-width="0.8"/>
<text x="98.4" y="503.6" font-size="12.5" text-anchor="middle" fill="#1a1a1a" stroke="#1a1a1a" stroke-width="0.22" textLength="12.2" lengthAdjust="spacingAndGlyphs" >200</text>
<line x1="122.14999999999999" y1="487.3" x2="122.14999999999999" y2="491.0" stroke="#666" stroke-width="0.8"/>
<text x="122.55" y="503.6" font-size="12.5" text-anchor="middle" fill="#1a1a1a" stroke="#1a1a1a" stroke-width="0.22" textLength="12.2" lengthAdjust="spacingAndGlyphs" >300</text>
<line x1="146.3" y1="487.3" x2="146.3" y2="491.0" stroke="#666" stroke-width="0.8"/>
<text x="146.70000000000002" y="503.6" font-size="12.5" text-anchor="middle" fill="#1a1a1a" stroke="#1a1a1a" stroke-width="0.22" textLength="12.2" lengthAdjust="spacingAndGlyphs" >400</text>
<line x1="170.45" y1="487.3" x2="170.45" y2="491.0" stroke="#666" stroke-width="0.8"/>
<text x="170.85" y="503.6" font-size="12.5" text-anchor="middle" fill="#1a1a1a" stroke="#1a1a1a" stroke-width="0.22" textLength="12.2" lengthAdjust="spacingAndGlyphs" >500</text>
<line x1="194.59999999999997" y1="487.3" x2="194.59999999999997" y2="491.0" stroke="#666" stroke-width="0.8"/>
<text x="194.99999999999997" y="503.6" font-size="12.5" text-anchor="middle" fill="#1a1a1a" stroke="#1a1a1a" stroke-width="0.22" textLength="12.2" lengthAdjust="spacingAndGlyphs" >600</text>
<line x1="218.75" y1="487.3" x2="218.75" y2="491.0" stroke="#666" stroke-width="0.8"/>
<text x="220.05" y="503.6" font-size="12.5" text-anchor="middle" fill="#1a1a1a" stroke="#1a1a1a" stroke-width="0.22" textLength="12.2" lengthAdjust="spacingAndGlyphs" >700</text>
<rect x="39.8" y="509.2" width="184.4" height="98.2" fill="#efefef"/>
<rect x="43.2" y="514.4" width="177.5" height="86.5" fill="#ebebeb" stroke="#808080" stroke-width="0.9"/>
<line x1="43.2" y1="598.5" x2="220.7" y2="598.5" stroke="#b5b5b5" stroke-width="0.7"/>
<clipPath id="c514"><rect x="43.2" y="514.4" width="177.5" height="86.5"/></clipPath>
<g clip-path="url(#c514)">
<path d="M42.59 598.50 C42.93 598.20 43.72 598.83 44.49 596.85 C45.26 594.87 46.00 592.40 46.86 587.50 C47.71 582.60 48.42 575.32 49.23 569.62 C50.04 563.93 50.59 559.49 51.36 555.88 C52.13 552.26 52.90 550.84 53.49 549.55 C54.09 548.26 54.21 548.33 54.68 548.73 C55.15 549.12 55.55 549.47 56.10 551.75 C56.66 554.03 57.12 557.66 57.76 561.38 C58.40 565.09 58.89 568.96 59.66 572.38 C60.42 575.79 61.09 577.97 62.03 580.35 C62.96 582.73 63.85 584.09 64.87 585.58 C65.89 587.06 66.65 587.46 67.71 588.60 C68.78 589.74 69.60 590.76 70.80 591.90 C71.99 593.04 73.07 593.98 74.35 594.92 C75.63 595.87 76.41 596.56 77.91 597.12 C79.40 597.69 80.77 597.94 82.64 598.09 C84.52 598.24 86.45 598.12 88.34 597.95 C90.23 597.78 91.43 597.12 93.17 597.12 C94.91 597.13 96.04 597.81 98.00 598.00 C99.96 598.20 101.86 598.24 104.04 598.23 C106.21 598.21 108.12 597.87 110.08 597.89 C112.03 597.92 112.73 598.31 114.91 598.36 C117.08 598.41 120.06 598.34 122.15 598.17 C124.24 598.00 124.98 597.39 126.50 597.40 C128.02 597.41 127.91 598.04 130.60 598.23 C133.30 598.41 137.99 598.41 141.47 598.42 C144.95 598.43 147.66 598.41 149.92 598.28 C152.18 598.15 152.51 597.67 154.03 597.67 C155.55 597.68 154.55 598.20 158.38 598.34 C162.20 598.47 167.02 598.43 175.28 598.45 C183.54 598.46 197.96 598.49 204.26 598.45 C210.56 598.40 208.56 598.30 210.30 598.17 C212.04 598.04 212.62 597.72 213.92 597.73 C215.22 597.74 216.46 598.10 217.54 598.23 C218.63 598.35 219.52 598.38 219.96 598.42" fill="none" stroke="#2c8566" stroke-width="0.95" stroke-linejoin="round"/>
<path d="M42.35 598.50 C42.78 598.10 43.87 597.69 44.73 596.30 C45.58 594.91 46.24 593.27 47.09 590.80 C47.95 588.32 48.61 585.52 49.46 582.55 C50.32 579.58 50.98 576.77 51.84 574.30 C52.69 571.82 53.35 570.24 54.20 568.80 C55.06 567.36 55.72 566.82 56.57 566.33 C57.43 565.83 58.09 565.80 58.95 566.05 C59.80 566.30 60.46 566.81 61.31 567.70 C62.17 568.59 62.83 569.61 63.69 571.00 C64.54 572.39 65.20 573.82 66.05 575.40 C66.91 576.98 67.57 578.36 68.42 579.80 C69.28 581.24 69.94 582.29 70.80 583.38 C71.65 584.46 72.31 584.91 73.16 585.85 C74.02 586.79 74.68 587.56 75.53 588.60 C76.39 589.64 77.05 590.54 77.91 591.62 C78.76 592.71 79.42 593.71 80.28 594.65 C81.13 595.59 81.85 596.26 82.64 596.85 C83.44 597.44 83.69 597.65 84.72 597.95 C85.74 598.25 87.69 598.40 88.34 598.50" fill="none" stroke="#6a3835" stroke-width="0.95" stroke-linejoin="round"/>
<path d="M55.86 598.50 C56.12 598.30 56.82 598.39 57.29 597.40 C57.76 596.41 58.04 596.27 58.47 593.00 C58.90 589.73 59.23 585.93 59.66 579.25 C60.08 572.57 60.41 564.54 60.84 555.88 C61.27 547.21 61.60 537.81 62.03 531.12 C62.45 524.44 62.83 521.18 63.21 518.75 C63.59 516.32 63.82 516.66 64.16 517.65 C64.50 518.64 64.72 519.35 65.11 524.25 C65.49 529.15 65.87 537.20 66.29 544.88 C66.72 552.55 67.05 560.59 67.48 566.88 C67.90 573.16 68.24 576.58 68.66 579.80 C69.09 583.02 69.46 584.25 69.85 584.75 C70.23 585.25 70.41 584.43 70.80 582.55 C71.18 580.67 71.60 576.48 71.98 574.30 C72.36 572.12 72.59 570.65 72.93 570.45 C73.27 570.25 73.49 571.02 73.88 573.20 C74.26 575.38 74.63 579.38 75.06 582.55 C75.49 585.72 75.78 588.32 76.25 590.80 C76.72 593.27 77.07 594.91 77.67 596.30 C78.27 597.69 79.22 598.10 79.56 598.50" fill="none" stroke="#1e1e1e" stroke-width="0.95" stroke-linejoin="round"/>
</g>
<line x1="57.2" y1="598.5" x2="220.7" y2="598.5" stroke="#c4c4c4" stroke-width="0.7" opacity="0.55"/>
<line x1="40" y1="598.5" x2="43.2" y2="598.5" stroke="#666" stroke-width="0.8"/>
<line x1="40" y1="584.75" x2="43.2" y2="584.75" stroke="#666" stroke-width="0.8"/>
<line x1="40" y1="571.0" x2="43.2" y2="571.0" stroke="#666" stroke-width="0.8"/>
<line x1="40" y1="557.25" x2="43.2" y2="557.25" stroke="#666" stroke-width="0.8"/>
<line x1="40" y1="543.5" x2="43.2" y2="543.5" stroke="#666" stroke-width="0.8"/>
<line x1="40" y1="529.75" x2="43.2" y2="529.75" stroke="#666" stroke-width="0.8"/>
<line x1="40" y1="516.0" x2="43.2" y2="516.0" stroke="#666" stroke-width="0.8"/>
<text transform="translate(38.8 514.3) rotate(-90)" font-size="8.5" text-anchor="middle" fill="#222" stroke="#222" stroke-width="0.3" textLength="21.6" lengthAdjust="spacingAndGlyphs">0.030</text>
<text transform="translate(38.8 557) rotate(-90)" font-size="8.5" text-anchor="middle" fill="#222" stroke="#222" stroke-width="0.3" textLength="21.6" lengthAdjust="spacingAndGlyphs">0.015</text>
<text transform="translate(38.8 601.2) rotate(-90)" font-size="8.5" text-anchor="middle" fill="#222" stroke="#222" stroke-width="0.3" textLength="21.6" lengthAdjust="spacingAndGlyphs">0.000</text>
<line x1="49.7" y1="600.9" x2="49.7" y2="604.6" stroke="#666" stroke-width="0.8"/>
<text x="51.0" y="618.6" font-size="12.5" text-anchor="middle" fill="#1a1a1a" stroke="#1a1a1a" stroke-width="0.22" textLength="4.4" lengthAdjust="spacingAndGlyphs" >0</text>
<line x1="73.85" y1="600.9" x2="73.85" y2="604.6" stroke="#666" stroke-width="0.8"/>
<text x="74.25" y="618.6" font-size="12.5" text-anchor="middle" fill="#1a1a1a" stroke="#1a1a1a" stroke-width="0.22" textLength="12.2" lengthAdjust="spacingAndGlyphs" >100</text>
<line x1="98.0" y1="600.9" x2="98.0" y2="604.6" stroke="#666" stroke-width="0.8"/>
<text x="98.4" y="618.6" font-size="12.5" text-anchor="middle" fill="#1a1a1a" stroke="#1a1a1a" stroke-width="0.22" textLength="12.2" lengthAdjust="spacingAndGlyphs" >200</text>
<line x1="122.14999999999999" y1="600.9" x2="122.14999999999999" y2="604.6" stroke="#666" stroke-width="0.8"/>
<text x="122.55" y="618.6" font-size="12.5" text-anchor="middle" fill="#1a1a1a" stroke="#1a1a1a" stroke-width="0.22" textLength="12.2" lengthAdjust="spacingAndGlyphs" >300</text>
<line x1="146.3" y1="600.9" x2="146.3" y2="604.6" stroke="#666" stroke-width="0.8"/>
<text x="146.70000000000002" y="618.6" font-size="12.5" text-anchor="middle" fill="#1a1a1a" stroke="#1a1a1a" stroke-width="0.22" textLength="12.2" lengthAdjust="spacingAndGlyphs" >400</text>
<line x1="170.45" y1="600.9" x2="170.45" y2="604.6" stroke="#666" stroke-width="0.8"/>
<text x="170.85" y="618.6" font-size="12.5" text-anchor="middle" fill="#1a1a1a" stroke="#1a1a1a" stroke-width="0.22" textLength="12.2" lengthAdjust="spacingAndGlyphs" >500</text>
<line x1="194.59999999999997" y1="600.9" x2="194.59999999999997" y2="604.6" stroke="#666" stroke-width="0.8"/>
<text x="194.99999999999997" y="618.6" font-size="12.5" text-anchor="middle" fill="#1a1a1a" stroke="#1a1a1a" stroke-width="0.22" textLength="12.2" lengthAdjust="spacingAndGlyphs" >600</text>
<line x1="218.75" y1="600.9" x2="218.75" y2="604.6" stroke="#666" stroke-width="0.8"/>
<text x="220.05" y="618.6" font-size="12.5" text-anchor="middle" fill="#1a1a1a" stroke="#1a1a1a" stroke-width="0.22" textLength="12.2" lengthAdjust="spacingAndGlyphs" >700</text>
<line x1="20.5" y1="406" x2="20.5" y2="549" stroke="#0c0c0c" stroke-width="1.1"/>
<path d="M20.5 401.2 L18.1 407 L22.9 407 Z" fill="#0c0c0c"/>
<text transform="translate(23.6 577.6) rotate(-90)" font-size="12.6" stroke="#1a1a1a" stroke-width="0.22" text-anchor="middle" fill="#1a1a1a" textLength="37.8" lengthAdjust="spacingAndGlyphs">Density</text>
<text x="47.3" y="636.3" font-size="13" text-anchor="start" fill="#1a1a1a" stroke="#1a1a1a" stroke-width="0.22" textLength="173" lengthAdjust="spacingAndGlyphs" word-spacing="1.2">Gene expression profiling on microarray</text>
<line x1="232.5" y1="407" x2="259.5" y2="407" stroke="#2f9a78" stroke-width="2"/>
<line x1="232.5" y1="435.5" x2="259.5" y2="435.5" stroke="#7e302c" stroke-width="2"/>
<line x1="232.5" y1="470" x2="259.5" y2="470" stroke="#050505" stroke-width="2"/>
<text x="270.6" y="410.3" font-size="12.7" text-anchor="start" fill="#1a1a1a" stroke="#1a1a1a" stroke-width="0.22" textLength="120" lengthAdjust="spacingAndGlyphs" ><tspan font-style="italic">PML-RARα</tspan> negative leukaemias</text>
<text x="269.6" y="433.2" font-size="12.7" text-anchor="start" fill="#1a1a1a" stroke="#1a1a1a" stroke-width="0.22" textLength="118" lengthAdjust="spacingAndGlyphs" ><tspan font-style="italic">PML-RARα</tspan> positive leukaemias</text>
<text x="266.3" y="446.3" font-size="12.7" text-anchor="start" fill="#1a1a1a" stroke="#1a1a1a" stroke-width="0.22" textLength="125.5" lengthAdjust="spacingAndGlyphs" >with <tspan font-style="italic">FLT3-ITD</tspan> mutation negative</text>
<text x="269.3" y="467.1" font-size="12.7" text-anchor="start" fill="#1a1a1a" stroke="#1a1a1a" stroke-width="0.22" textLength="118" lengthAdjust="spacingAndGlyphs" ><tspan font-style="italic">PML-RARα</tspan> positive leukaemias</text>
<text x="268" y="481.0" font-size="12.7" text-anchor="start" fill="#1a1a1a" stroke="#1a1a1a" stroke-width="0.22" textLength="123.5" lengthAdjust="spacingAndGlyphs" >with <tspan font-style="italic">FLT3-ITD</tspan> mutation positive</text>
<line x1="232.5" y1="527" x2="259.5" y2="527" stroke="#2f9a78" stroke-width="2"/>
<line x1="232.5" y1="556.25" x2="259.5" y2="556.25" stroke="#7e302c" stroke-width="2"/>
<line x1="232.5" y1="590.5" x2="259.5" y2="590.5" stroke="#050505" stroke-width="2"/>
<text x="270.4" y="529.9" font-size="12.7" text-anchor="start" fill="#1a1a1a" stroke="#1a1a1a" stroke-width="0.22" textLength="118.5" lengthAdjust="spacingAndGlyphs" ><tspan font-style="italic">PML-RARα</tspan> negative leukaemias</text>
<text x="270.4" y="553.1" font-size="12.7" text-anchor="start" fill="#1a1a1a" stroke="#1a1a1a" stroke-width="0.22" textLength="119.2" lengthAdjust="spacingAndGlyphs" ><tspan font-style="italic">PML-RARα</tspan> positive leukaemias</text>
<text x="264.9" y="567.3" font-size="12.7" text-anchor="start" fill="#1a1a1a" stroke="#1a1a1a" stroke-width="0.22" textLength="127.2" lengthAdjust="spacingAndGlyphs" >with <tspan font-style="italic">FLT3-TKD</tspan> mutation negative</text>
<text x="268.8" y="587.2" font-size="12.7" text-anchor="start" fill="#1a1a1a" stroke="#1a1a1a" stroke-width="0.22" textLength="117.8" lengthAdjust="spacingAndGlyphs" ><tspan font-style="italic">PML-RARα</tspan> positive leukaemias</text>
<text x="266.1" y="600.5" font-size="12.7" text-anchor="start" fill="#1a1a1a" stroke="#1a1a1a" stroke-width="0.22" textLength="125" lengthAdjust="spacingAndGlyphs" >with <tspan font-style="italic">FLT3-TKD</tspan> mutation positive</text>
</svg>
</body></html>
